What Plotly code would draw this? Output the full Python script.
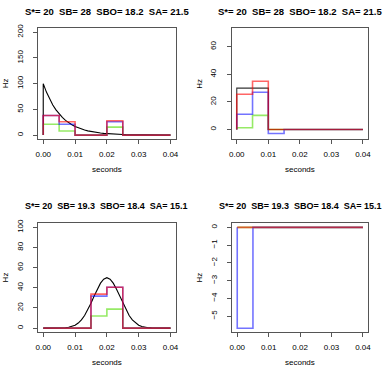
import plotly.graph_objects as go

W, H = 389, 371

# bin edges (seconds) shared by every panel
edges = [0.0, 0.005, 0.01, 0.015, 0.02, 0.025, 0.03, 0.035, 0.04]

# panel 1 : decaying rate, estimates per bin
t_exp = [i / 1000 for i in range(41)]
rate_exp = [100, 83.6, 70.0, 58.5, 49.0, 41.0, 34.3, 28.7, 24.0, 20.0, 16.8,
            14.0, 11.7, 9.8, 8.2, 6.9, 5.7, 4.8, 4.0, 3.4, 2.8, 2.4, 2.0, 1.6,
            1.4, 1.2, 1.0, 0.8, 0.7, 0.6, 0.5, 0.4, 0.3, 0.3, 0.2, 0.2, 0.2,
            0.1, 0.1, 0.1, 0.1]
p1_blue = [38, 21, 0, 0, 26, 0, 0, 0]
p1_green = [21, 8, 0, 0, 15.5, 0, 0, 0]
p1_red = [38, 26, 0, 0, 28, 0, 0, 0]

# panel 2 : differences
p2_black = [30, 30, 0, 0, 0, 0, 0, 0]
p2_blue = [11, 27, -2.9, 0, 0, 0, 0, 0]
p2_green = [1.2, 10.2, 0, 0, 0, 0, 0, 0]
p2_red = [25.5, 35, 0, 0, 0, 0, 0, 0]

# panel 3 : bump rate, estimates per bin
t_gau = [i / 1000 for i in range(41)]
rate_gau = [0, 0, 0, 0, 0, 0.1, 0.2, 0.4, 0.8, 1.6, 2.9, 5.0, 8.1, 12.5, 18.0,
            24.6, 31.8, 38.7, 44.6, 48.6, 50, 48.6, 44.6, 38.7, 31.8, 24.6,
            18.0, 12.5, 8.1, 5.0, 2.9, 1.6, 0.8, 0.4, 0.2, 0.1, 0, 0, 0, 0, 0]
p3_blue = [0, 0, 0, 31.7, 40.5, 0, 0, 0]
p3_green = [0, 0, 0, 12, 18.8, 0, 0, 0]
p3_red = [0, 0, 0, 33.7, 40.5, 0, 0, 0]

# panel 4 : differences
p4_blue = [-5.68, 0, 0, 0, 0, 0, 0, 0]
p4_green = [0, 0, 0, 0, 0, 0, 0, 0]
p4_red = [0, 0, 0, 0, 0, 0, 0, 0]

titles = ["S*= 20  SB= 28  SBO= 18.2  SA= 21.5",
          "S*= 20  SB= 28  SBO= 18.2  SA= 21.5",
          "S*= 20  SB= 19.3  SBO= 18.4  SA= 15.1",
          "S*= 20  SB= 19.3  SBO= 18.4  SA= 15.1"]

BLACK = "rgba(0,0,0,0.8)"
BLUE = "rgba(0,0,255,0.55)"
GREEN = "rgba(80,220,0,0.6)"
RED = "rgba(255,0,0,0.6)"
FONT = "Liberation Sans, Arial, sans-serif"

# plot boxes in pixels: left, right, top, bottom
boxes = [(35.7, 175.3, 24.3, 136.7), (232.3, 370.7, 24.3, 136.7),
         (35.7, 175.3, 221.7, 331.7), (232.8, 370.7, 221.7, 331.7)]
yranges = [[-8, 208], [-7.1, 73.6], [-4, 104], [-5.9, 0.227]]
yticks = [[0, 50, 100, 150, 200], [0, 20, 40, 60],
          [0, 20, 40, 60, 80, 100], [0, -1, -2, -3, -4, -5]]
title_size = [9.5, 9.5, 9, 9]


def step(vals):
    x = [edges[0]] + edges[:-1] + [edges[-1]]
    y = [0] + list(vals) + [vals[-1]]
    return x, y


fig = go.Figure()


def add_step(vals, color, k, w=1.6):
    x, y = step(vals)
    fig.add_trace(go.Scatter(x=x, y=y, mode="lines", line_shape="hv",
                             line=dict(color=color, width=w),
                             xaxis="x%d" % k, yaxis="y%d" % k,
                             showlegend=False, hoverinfo="skip"))


def add_curve(x, y, k):
    fig.add_trace(go.Scatter(x=x, y=y, mode="lines",
                             line=dict(color="black", width=1.1),
                             xaxis="x%d" % k, yaxis="y%d" % k,
                             showlegend=False, hoverinfo="skip"))


add_curve([0] + t_exp, [0] + rate_exp, 1)
add_step(p1_green, GREEN, 1)
add_step(p1_blue, BLUE, 1)
add_step(p1_red, RED, 1)

add_step(p2_black, BLACK, 2, 1.1)
add_step(p2_green, GREEN, 2)
add_step(p2_blue, BLUE, 2)
add_step(p2_red, RED, 2)

add_curve(t_gau, rate_gau, 3)
add_step(p3_green, GREEN, 3)
add_step(p3_blue, BLUE, 3)
add_step(p3_red, RED, 3)

add_step(p4_green, GREEN, 4)
add_step(p4_blue, BLUE, 4)
add_step(p4_red, RED, 4)

layout = dict(width=W, height=H, margin=dict(l=0, r=0, t=0, b=0),
              paper_bgcolor="white", plot_bgcolor="white",
              font=dict(family=FONT, size=8, color="black"))
annotations = []
for i, (l, r, t, b) in enumerate(boxes):
    k = i + 1
    layout["xaxis%d" % k] = dict(
        domain=[l / W, r / W], anchor="y%d" % k, range=[-0.0016, 0.0416],
        tickvals=[0, 0.01, 0.02, 0.03, 0.04],
        ticktext=["0.00", "0.01", "0.02", "0.03", "0.04"],
        ticks="outside", ticklen=4, tickcolor="#555", showgrid=False,
        zeroline=False, showline=True, mirror=True, linecolor="#555",
        linewidth=1.2, ticklabelstandoff=3, tickfont=dict(size=8))
    layout["yaxis%d" % k] = dict(
        domain=[1 - b / H, 1 - t / H], anchor="x%d" % k, range=yranges[i],
        tickvals=yticks[i], ticks="outside", ticklen=4, tickcolor="#555",
        showgrid=False, zeroline=False, showline=True, mirror=True,
        linecolor="#555", linewidth=1.2, tickangle=-90,
        ticklabelstandoff=7, tickfont=dict(size=8))
    cx = (l + r) / 2
    annotations.append(dict(text="<b>%s</b>" % titles[i], x=cx / W,
                            y=1 - (t - 17) / H, xref="paper", yref="paper",
                            showarrow=False, font=dict(size=title_size[i]),
                            xanchor="center", yanchor="middle"))
    annotations.append(dict(text="Hz", x=(l - 33) / W, y=1 - ((t + b) / 2) / H,
                            xref="paper", yref="paper", showarrow=False,
                            textangle=-90, font=dict(size=8),
                            xanchor="center", yanchor="middle"))
    annotations.append(dict(text="seconds", x=cx / W, y=1 - (b + 31) / H,
                            xref="paper", yref="paper", showarrow=False,
                            font=dict(size=8),
                            xanchor="center", yanchor="middle"))
layout["annotations"] = annotations
fig.update_layout(**layout)

# the page body keeps its default 8px margin unless reset
fig.write_html("out.html", config={"displayModeBar": False},
               post_script="document.body.style.margin='0';")
